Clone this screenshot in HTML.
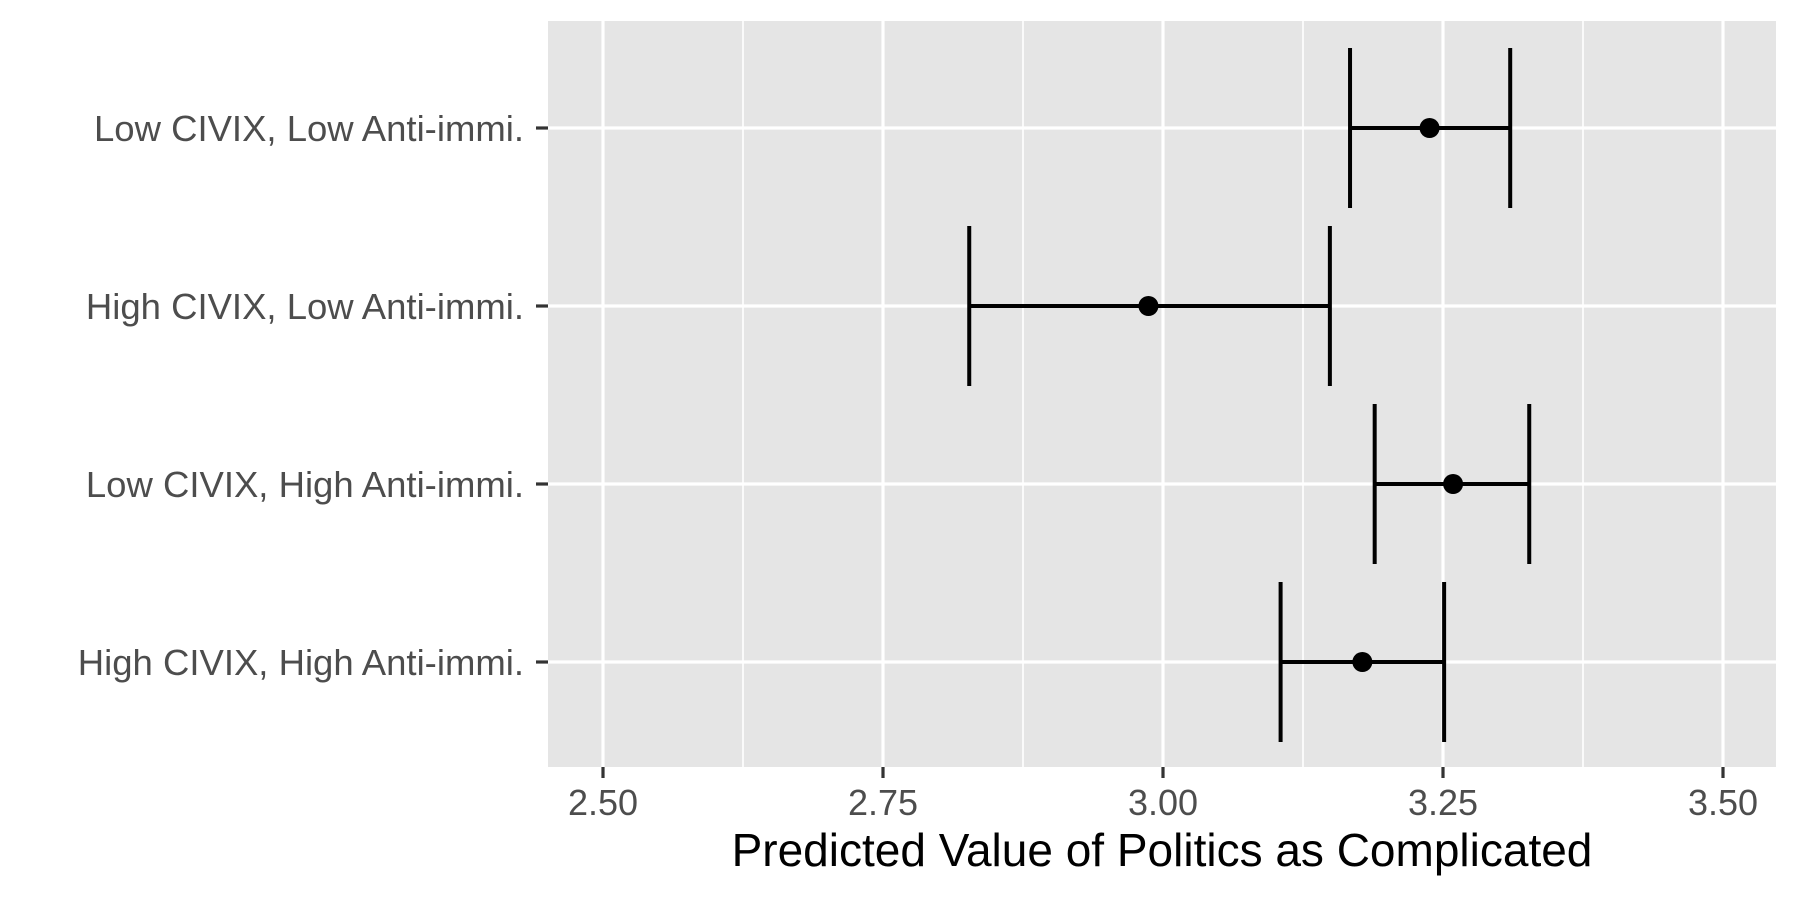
<!DOCTYPE html>
<html><head><meta charset="utf-8"><style>
html,body{margin:0;padding:0;background:#fff;}
svg{display:block;font-family:"Liberation Sans",Arial,sans-serif;}
</style></head><body>
<svg id="chart" width="1799" height="899" viewBox="0 0 1799 899">
<rect x="548" y="21" width="1228" height="746" fill="#e5e5e5"/>
<g id="grid"></g><g id="marks"></g><g id="axes"></g>
<text x="1162" y="866" text-anchor="middle" font-size="46" fill="#000">Predicted Value of Politics as Complicated</text>
</svg>
<script>
const categories = ["Low CIVIX, Low Anti-immi.","High CIVIX, Low Anti-immi.","Low CIVIX, High Anti-immi.","High CIVIX, High Anti-immi."];
const estimates = [3.238, 2.987, 3.259, 3.178];
const lower = [3.167, 2.827, 3.189, 3.105];
const upper = [3.310, 3.149, 3.327, 3.251];
const xTicks = [2.50, 2.75, 3.00, 3.25, 3.50];
const xTickLabels = ["2.50","2.75","3.00","3.25","3.50"];
const xMinor = [2.625, 2.875, 3.125, 3.375];

const NS="http://www.w3.org/2000/svg";
const x = v => 603 + (v - 2.5) * 1120;
const y = i => 128 + i * 178;
function mk(tag, attrs, parent){const e=document.createElementNS(NS,tag);for(const k in attrs)e.setAttribute(k,attrs[k]);parent.appendChild(e);return e;}
const grid=document.getElementById('grid'), marks=document.getElementById('marks'), axes=document.getElementById('axes');

xMinor.forEach(v=>{
  const l=mk('line',{x1:x(v),x2:x(v),y1:21,y2:767,stroke:'#fff','stroke-width':1.6},grid);
  
  
});
xTicks.forEach((v,i)=>{
  const l=mk('line',{x1:x(v),x2:x(v),y1:21,y2:767,stroke:'#fff','stroke-width':3.2},grid);
  
  
  const t=mk('line',{x1:x(v),x2:x(v),y1:767,y2:778,stroke:'#333','stroke-width':3.2},axes);
  
  
  const tx=mk('text',{x:x(v),y:815,'text-anchor':'middle','font-size':36,fill:'#4d4d4d'},axes);
  tx.textContent=xTickLabels[i];
  
  
});
categories.forEach((c,i)=>{
  const l=mk('line',{x1:548,x2:1776,y1:y(i),y2:y(i),stroke:'#fff','stroke-width':3.2},grid);
  
  
  const t=mk('line',{x1:536,x2:548,y1:y(i),y2:y(i),stroke:'#333','stroke-width':3.2},axes);
  
  
  const tx=mk('text',{x:524,y:y(i)+13,'text-anchor':'end','font-size':36.5,fill:'#4d4d4d'},axes);
  tx.textContent=c;
  
  
  const g=mk('g',{},marks);
  
  
  mk('line',{x1:x(lower[i]),x2:x(upper[i]),y1:y(i),y2:y(i),stroke:'#000','stroke-width':4},g);
  mk('line',{x1:x(lower[i]),x2:x(lower[i]),y1:y(i)-80,y2:y(i)+80,stroke:'#000','stroke-width':4},g);
  mk('line',{x1:x(upper[i]),x2:x(upper[i]),y1:y(i)-80,y2:y(i)+80,stroke:'#000','stroke-width':4},g);
  const p=mk('circle',{cx:x(estimates[i]),cy:y(i),r:10,fill:'#000'},marks);
  
  
});
</script>
</body></html>
